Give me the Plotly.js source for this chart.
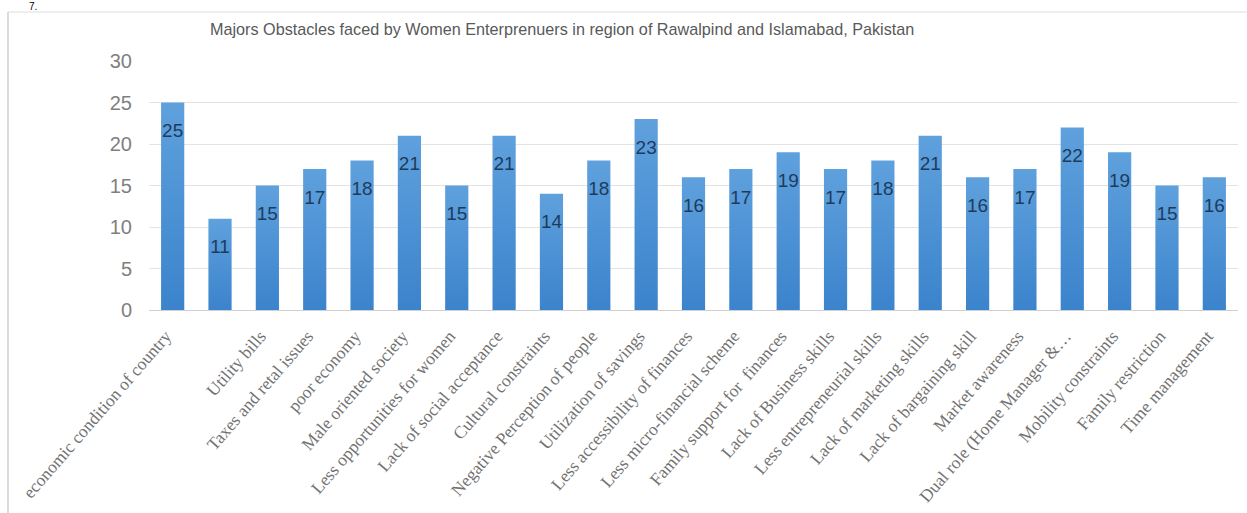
<!DOCTYPE html>
<html>
<head>
<meta charset="utf-8">
<script src="https://cdn.plot.ly/plotly-3.0.1.min.js"></script>
<style>
  html, body { margin: 0; padding: 0; background: #fff; }
  #chart { width: 1247px; height: 513px; }
</style>
</head>
<body>
<div id="chart"></div>
<script>
const categories = [
  "economic condition of country",
  " ",
  "Utility bills",
  "Taxes and retal issues",
  "poor economy",
  "Male oriented society",
  "Less opportunities for women",
  "Lack of social acceptance",
  "Cultural constraints",
  "Negative Perception of people",
  "Utilization of savings",
  "Less accessibility of finances",
  "Less micro-financial scheme",
  "Family support for  finances",
  "Lack of Business skills",
  "Less entrepreneurial skills",
  "Lack of marketing skills",
  "Lack of bargaining skill",
  "Market awareness",
  "Dual role (Home Manager &\u2026",
  "Mobility constraints",
  "Family restriction",
  "Time management"
];
const values = [25, 11, 15, 17, 18, 21, 15, 21, 14, 18, 23, 16, 17, 19, 17, 18, 21, 16, 17, 22, 19, 15, 16];
const yTicks = [0, 5, 10, 15, 20, 25, 30];
const chartTitle = "Majors Obstacles faced by Women Enterprenuers in region of Rawalpind and Islamabad, Pakistan";

const W = 1247, H = 513;
const M = { l: 149, r: 9, t: 61, b: 203 };
const pw = W - M.l - M.r, ph = H - M.t - M.b;
const px = X => (X - M.l) / pw;
const py = Y => (H - M.b - Y) / ph;

const labelOffset = 3.6;

const bars = {
  type: 'bar',
  x: categories,
  y: values,
  width: 0.49,
  marker: { color: '#4a8fd6', line: { width: 0 } },
  hoverinfo: 'skip'
};
const labels = {
  type: 'scatter',
  mode: 'text',
  x: categories,
  y: values.map(v => v - labelOffset),
  text: values.map(String),
  textposition: 'middle center',
  textfont: { family: 'Liberation Sans Narrow, Arial Narrow, sans-serif', size: 19, color: '#1f3b5c' },
  hoverinfo: 'skip',
  cliponaxis: false
};

const layout = {
  width: W, height: H,
  margin: M,
  paper_bgcolor: '#fff',
  plot_bgcolor: '#fff',
  showlegend: false,
  font: { family: 'Liberation Sans Narrow, Arial Narrow, sans-serif', color: '#7f7f7f' },
  xaxis: {
    type: 'category',
    range: [-0.5, categories.length - 0.5],
    tickangle: -49,
    tickfont: { family: 'Liberation Serif, Times New Roman, serif', size: 17.5, color: '#727272' },
    ticklabelstandoff: 8,
    ticklabelshift: -7,
    showgrid: false,
    showline: true,
    linecolor: '#d0d0d0',
    linewidth: 1,
    ticks: '',
    zeroline: false,
    fixedrange: true
  },
  yaxis: {
    range: [0, 30],
    tickvals: yTicks,
    ticktext: yTicks.map(String),
    tickfont: { family: 'Liberation Sans Narrow, Arial Narrow, sans-serif', size: 20, color: '#7f7f7f' },
    showgrid: true,
    gridcolor: '#e3e3e3',
    gridwidth: 1,
    zeroline: false,
    showline: false,
    ticks: '',
    ticklabelstandoff: 16,
    fixedrange: true
  },
  shapes: [
    { type: 'line', xref: 'paper', yref: 'paper', x0: px(8), x1: px(8), y0: py(12), y1: py(H + 2),
      line: { color: '#c4c4c4', width: 1.2 } },
    { type: 'line', xref: 'paper', yref: 'paper', x0: px(8), x1: px(W + 2), y0: py(12), y1: py(12),
      line: { color: '#dedede', width: 1 } }
  ],
  annotations: [
    { text: chartTitle, xref: 'paper', yref: 'paper', x: px(562), y: py(29),
      xanchor: 'center', yanchor: 'middle', showarrow: false,
      font: { family: 'Liberation Sans Narrow, Arial Narrow, sans-serif', size: 16.2, color: '#595959' } },
    { text: '7.', xref: 'paper', yref: 'paper', x: px(28), y: py(0),
      xanchor: 'left', yanchor: 'top', showarrow: false, borderpad: 0,
      font: { family: 'Liberation Sans, Arial, sans-serif', size: 10, color: '#000' } }
  ]
};

Plotly.newPlot('chart', [bars, labels], layout, { displayModeBar: false, staticPlot: true }).then(() => {
  const svg = document.querySelector('#chart .main-svg');
  const ns = 'http://www.w3.org/2000/svg';
  let defs = svg.querySelector('defs');
  if (!defs) { defs = document.createElementNS(ns, 'defs'); svg.insertBefore(defs, svg.firstChild); }
  const g = document.createElementNS(ns, 'linearGradient');
  g.setAttribute('id', 'barGrad');
  g.setAttribute('x1', '0'); g.setAttribute('y1', '0');
  g.setAttribute('x2', '0'); g.setAttribute('y2', '1');
  [['0', '#5fa1dd'], ['1', '#3b83cc']].forEach(([o, c]) => {
    const s = document.createElementNS(ns, 'stop');
    s.setAttribute('offset', o); s.setAttribute('stop-color', c);
    g.appendChild(s);
  });
  defs.appendChild(g);
  document.querySelectorAll('#chart .trace.bars .point path').forEach(p => {
    p.style.fill = 'url(#barGrad)';
  });
});
</script>
</body>
</html>
